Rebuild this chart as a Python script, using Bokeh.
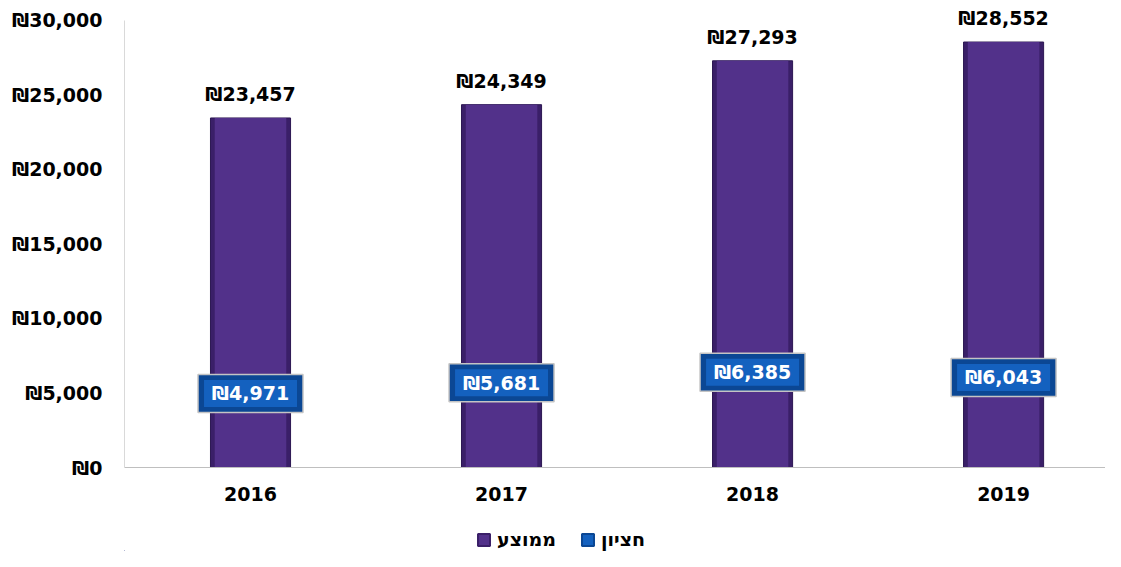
from bokeh.plotting import figure
from bokeh.layouts import column
from bokeh.models import (Range1d, FixedTicker, CustomJSTickFormatter, Legend, LegendItem,
                          ColumnDataSource)
from bokeh.core.properties import value
from bokeh.embed import file_html
from bokeh.resources import INLINE

years = [2016, 2017, 2018, 2019]
year_labels = ["2016", "2017", "2018", "2019"]
average = [23457, 24349, 27293, 28552]
median = [4971, 5681, 6385, 6043]
series_names = ["ממוצע", "חציון"]
y_ticks = [0, 5000, 10000, 15000, 20000, 25000, 30000]

FONT = "DejaVu Sans"
AVG_EDGE, AVG_FILL = "#3a1f68", "#52318a"
MED_EDGE, MED_FILL = "#0b4794", "#1461bf"

def fmt(v):
    return "₪" + f"{v:,}"

src = ColumnDataSource(dict(
    x=years, avg=average, med=median,
    avg_lbl=[fmt(v) for v in average],
    med_lbl=[fmt(v) for v in median],
))

p = figure(width=1105, height=515, output_backend="svg", toolbar_location=None,
           x_range=Range1d(2015.498, 2019.406), y_range=Range1d(0, 31339),
           min_border_left=124, min_border_right=0, min_border_top=0, min_border_bottom=48)
p.outline_line_color = None
p.xgrid.grid_line_color = None
p.ygrid.grid_line_color = None

# average bars (with a darker bevel edge)
p.vbar(x="x", top="avg", width=0.319, bottom=0, source=src,
       fill_color=AVG_EDGE, line_color="#2c1752", line_width=1)
p.vbar(x="x", top="avg", width=0.285, bottom=0, source=src,
       fill_color=AVG_FILL, line_color=None)

# median boxes (bevelled)
p.rect(x="x", y="med", width=105, height=38, width_units="screen",
       height_units="screen", source=src,
       fill_color=MED_EDGE, line_color="#c4c4c4", line_width=1.5)
p.rect(x="x", y="med", width=93, height=27, width_units="screen",
       height_units="screen", source=src, fill_color=MED_FILL, line_color=None)

p.text(x="x", y="avg", text="avg_lbl", source=src, y_offset=-24,
       text_align="center", text_baseline="middle", text_font=value(FONT),
       text_font_style="bold", text_font_size="19px", text_color="#000000")
p.text(x="x", y="med", text="med_lbl", source=src,
       text_align="center", text_baseline="middle", text_font=value(FONT),
       text_font_style="bold", text_font_size="19px", text_color="#ffffff")

p.yaxis.ticker = FixedTicker(ticks=y_ticks)
p.yaxis.bounds = (0, 30000)
p.yaxis.formatter = CustomJSTickFormatter(code="return '\u20aa' + tick.toLocaleString('en-US');")
p.yaxis.major_label_text_font = FONT
p.yaxis.major_label_text_font_style = "bold"
p.yaxis.major_label_text_font_size = "19px"
p.yaxis.major_label_text_color = "#000000"
p.yaxis.axis_line_color = "#d9d9d9"
p.yaxis.major_tick_line_color = None
p.yaxis.minor_tick_line_color = None
p.yaxis.major_label_standoff = 16

p.xaxis.ticker = FixedTicker(ticks=years)
p.xaxis.major_label_overrides = {y: l for y, l in zip(years, year_labels)}
p.xaxis.major_label_text_font = FONT
p.xaxis.major_label_text_font_style = "bold"
p.xaxis.major_label_text_font_size = "19px"
p.xaxis.major_label_text_color = "#000000"
p.xaxis.axis_line_color = "#bfbfbf"
p.xaxis.major_tick_line_color = None
p.xaxis.minor_tick_line_color = None
p.xaxis.major_label_standoff = 13

# legend strip (swatch renderers sit outside the strip's visible range)
lg = figure(width=1105, height=36, output_backend="svg", toolbar_location=None,
            x_range=Range1d(0, 1), y_range=Range1d(0, 1),
            x_axis_location=None, y_axis_location=None,
            min_border_left=0, min_border_right=0, min_border_top=0, min_border_bottom=0)
lg.outline_line_color = None
lg.xgrid.grid_line_color = None
lg.ygrid.grid_line_color = None
r_avg = lg.vbar(x=[-10], top=[-10], bottom=[-11], width=0.1,
                fill_color=AVG_FILL, line_color=AVG_EDGE, line_width=2)
r_med = lg.vbar(x=[-10], top=[-10], bottom=[-11], width=0.1,
                fill_color=MED_FILL, line_color=MED_EDGE, line_width=2)

legend = Legend(items=[LegendItem(label=series_names[0], renderers=[r_avg]),
                       LegendItem(label=series_names[1], renderers=[r_med])],
                orientation="horizontal", location=(352, 1),
                label_text_font=FONT, label_text_font_style="bold",
                label_text_font_size="19px", label_text_color="#000000",
                glyph_width=15, glyph_height=15, label_standoff=6,
                spacing=24, border_line_color=None, background_fill_alpha=0,
                padding=4, margin=0)
lg.add_layout(legend, "center")

open("out.html", "w").write(file_html(column(p, lg, spacing=0), INLINE))
